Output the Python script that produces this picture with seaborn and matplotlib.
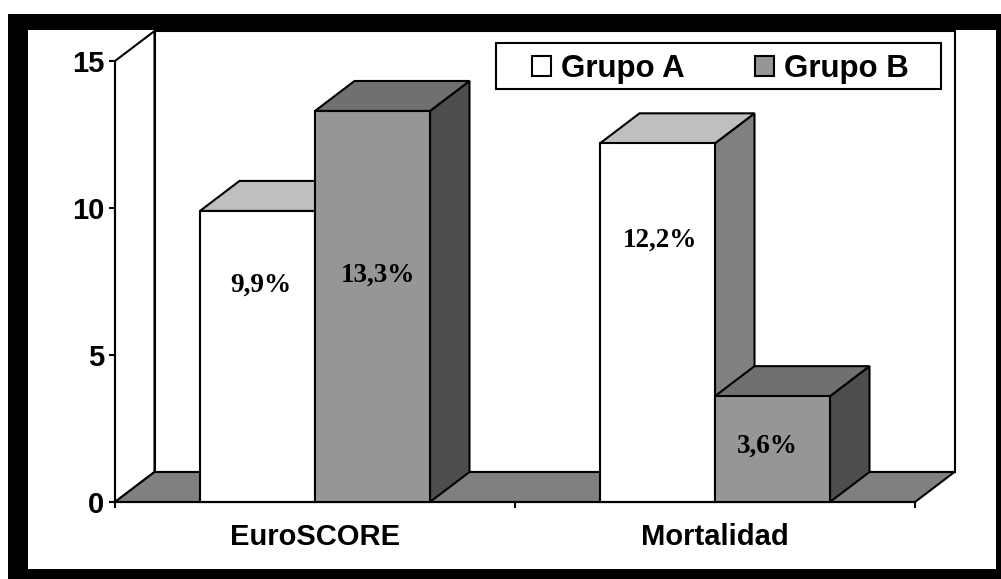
import matplotlib
matplotlib.use("Agg")
import matplotlib.pyplot as plt
from matplotlib.patches import Polygon, Rectangle
import pandas as pd
import seaborn as sns

categories = ["EuroSCORE", "Mortalidad"]
grupo_a = [9.9, 12.2]
grupo_b = [13.3, 3.6]
labels_a = ["9,9%", "12,2%"]
labels_b = ["13,3%", "3,6%"]
y_ticks = [0, 5, 10, 15]

# layout: position of each value label inside its bar
label_y_a = [7.38, 8.92]
label_y_b = [7.72, 1.89]
label_dx_a = [0.009, 0.0075]
label_dx_b = [0.0135, -0.012]

W, H = 1001, 579
sns.set_style("white")
plt.rcParams["font.family"] = ["Liberation Sans", "DejaVu Sans"]
plt.rcParams["text.color"] = "black"
plt.rcParams["xtick.labelcolor"] = "black"
plt.rcParams["ytick.labelcolor"] = "black"

df = pd.DataFrame({
    "cat": categories * 2,
    "val": grupo_a + grupo_b,
    "grp": ["Grupo A"] * 2 + ["Grupo B"] * 2,
})

fig = plt.figure(figsize=(W / 100, H / 100), dpi=100, facecolor="white")

def fx(x):
    return x / W

def fy(y):
    return 1 - y / H

# black frame around the plot
fig.add_artist(Rectangle((fx(8), 0), fx(W - 8), fy(14), transform=fig.transFigure,
                         fc="black", ec="none", zorder=-5))
fig.add_artist(Rectangle((fx(28), fy(569)), fx(996 - 28), fy(30) - fy(569),
                         transform=fig.transFigure, fc="white", ec="none", zorder=-4))

ax = fig.add_axes([fx(115), fy(502), fx(800), fy(61) - fy(502)])
ax.patch.set_alpha(0)

LW = 1.5
front = {"Grupo A": "#ffffff", "Grupo B": "#969696"}
sns.barplot(data=df, x="cat", y="val", hue="grp", palette=front, width=0.575, gap=0,
            saturation=1, edgecolor="black", linewidth=LW, ax=ax, zorder=3)

ax.set_xlim(-0.5, 1.5)
ax.set_ylim(0, 15)
ax.set_xlabel("")
ax.set_ylabel("")

DX = 39.5 / 400
DY = 30.0 / 29.4

def poly(pts, fc, z):
    ax.add_patch(Polygon(pts, closed=True, fc=fc, ec="black", lw=LW, zorder=z,
                         clip_on=False, joinstyle="miter"))

# walls and floor
poly([(-0.5, 0), (-0.5 + DX, DY), (-0.5 + DX, 15 + DY), (-0.5, 15)], "white", 0.5)
poly([(-0.5 + DX, DY), (1.5 + DX, DY), (1.5 + DX, 15 + DY), (-0.5 + DX, 15 + DY)], "white", 0.4)
poly([(-0.5, 0), (1.5, 0), (1.5 + DX, DY), (-0.5 + DX, DY)], "#808080", 0.6)

# depth faces for the bars
colors = {"Grupo A": ("#bfbfbf", "#808080", 2.0, 3.0),
          "Grupo B": ("#707070", "#4d4d4d", 4.0, 5.0)}
containers = dict(zip(["Grupo A", "Grupo B"], ax.containers))
for grp, cont in containers.items():
    top_c, side_c, z_back, z_front = colors[grp]
    for bar in cont:
        x0, x1 = bar.get_x(), bar.get_x() + bar.get_width()
        h = bar.get_height()
        poly([(x1, 0), (x1 + DX, DY), (x1 + DX, h + DY), (x1, h)], side_c, z_back)
        poly([(x0, h), (x0 + DX, h + DY), (x1 + DX, h + DY), (x1, h)], top_c, z_back)
        bar.set_zorder(z_front)
        bar.set_clip_on(False)

# value labels
for cont, texts, ys, dxs in zip(ax.containers, (labels_a, labels_b),
                                (label_y_a, label_y_b), (label_dx_a, label_dx_b)):
    for bar, t, y, d in zip(cont, texts, ys, dxs):
        ax.text(bar.get_x() + bar.get_width() / 2 + d, y, t, ha="center", va="center",
                family="Liberation Serif", fontweight="bold", fontsize=19.5,
                color="black", zorder=8)

# axes
for s in ("top", "right"):
    ax.spines[s].set_visible(False)
for s in ("left", "bottom"):
    ax.spines[s].set_linewidth(LW)
    ax.spines[s].set_color("black")
    ax.spines[s].set_zorder(6)
ax.set_yticks(y_ticks)
ax.set_yticklabels([str(v) for v in y_ticks], fontsize=21, fontweight="bold", color="black")
ax.set_xticks([-0.5, 0.5, 1.5])
ax.set_xticklabels([])
ax.set_xticks([0, 1], minor=True)
ax.set_xticklabels(categories, minor=True, fontsize=21, fontweight="bold", color="black")
ax.tick_params(axis="y", which="major", left=True, length=4.5, width=LW, pad=3, color="black")
ax.tick_params(axis="x", which="major", bottom=True, length=4.5, width=LW, color="black")
ax.tick_params(axis="x", which="minor", bottom=False, length=0, pad=14.8)

# legend
ax.add_patch(Rectangle((fx(496), fy(89)), fx(445), fy(43) - fy(89), transform=fig.transFigure,
                       fc="white", ec="black", lw=LW, zorder=9, clip_on=False))
handles, leg_labels = ax.get_legend_handles_labels()
for h_ in handles:
    h_.set_linewidth(LW)
leg = ax.legend(handles, leg_labels, ncol=2, frameon=False, loc="center left",
                bbox_to_anchor=(fx(532), fy(69)), bbox_transform=fig.transFigure,
                borderpad=0, borderaxespad=0, handlelength=0.61, handleheight=0.61,
                handletextpad=0.32, columnspacing=2.25,
                prop={"family": "Liberation Sans", "weight": "bold", "size": 22.5})
leg.set_zorder(10)

fig.savefig("out.png", dpi=100, facecolor="white")
